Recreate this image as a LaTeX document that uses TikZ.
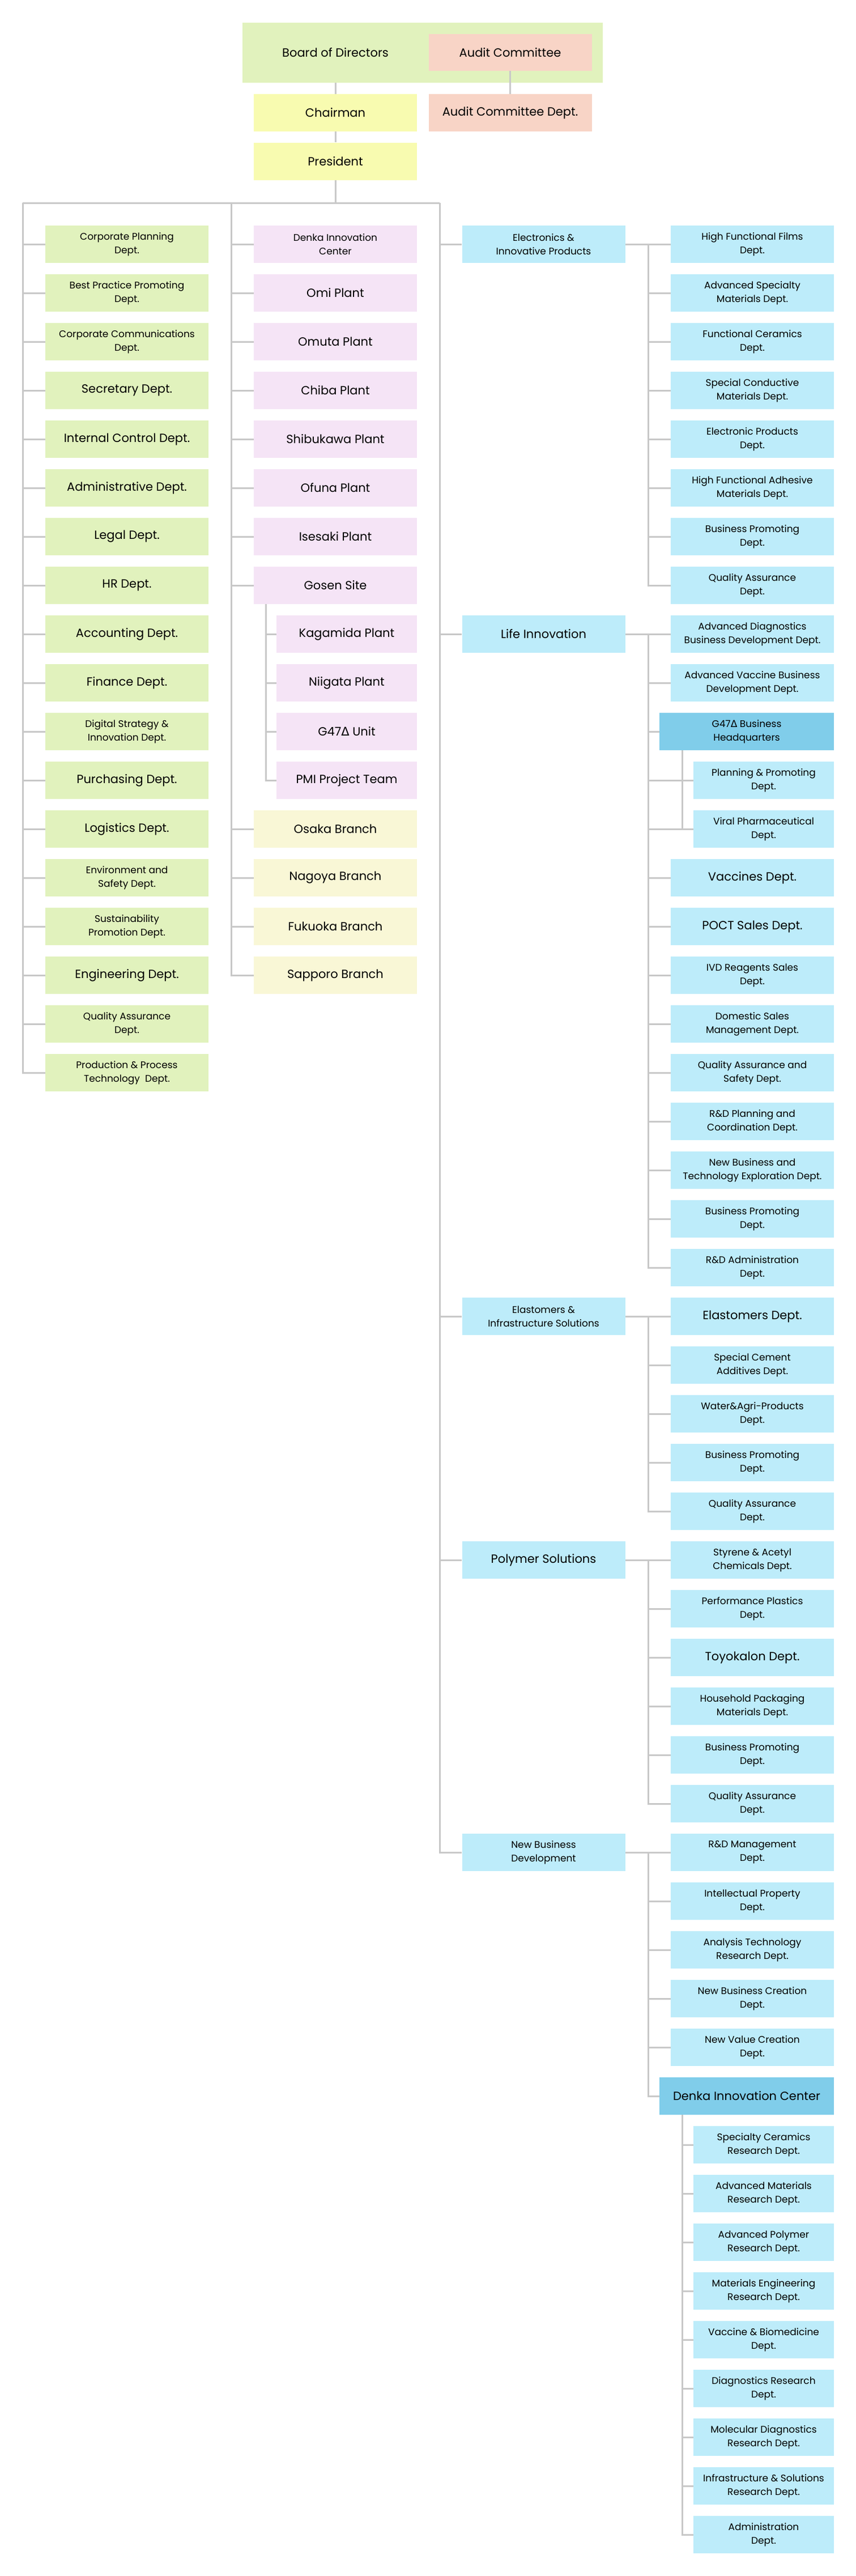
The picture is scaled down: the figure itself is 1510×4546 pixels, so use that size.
\documentclass[tikz,border=0pt]{standalone}
\usepackage{fontspec}
\setmainfont{Poppins}
\newfontfamily\dv{DejaVu Sans}
\definecolor{cgreen}{HTML}{E1F2BD}
\definecolor{csalmon}{HTML}{F8D4C6}
\definecolor{cyellow}{HTML}{F8FBB0}
\definecolor{cpink}{HTML}{F5E4F6}
\definecolor{ccream}{HTML}{F9F7D6}
\definecolor{cblue}{HTML}{BDECFA}
\definecolor{cdark}{HTML}{80CDEA}
\definecolor{cline}{HTML}{C8C8C8}
\newcommand\fs{\fontsize{8.5}{12}\selectfont}
\newcommand\fb{\fontsize{10.5}{13}\selectfont}
\newcommand\dlt{{\dv Δ}}
\tikzset{
 box/.style={inner sep=0,align=center,font=\fs,minimum height=33pt,minimum width=144pt},
 subw/.style={minimum width=124pt},
 darkw/.style={minimum width=154pt,fill=cdark},
 big/.style={font=\fb},
 gr/.style={box,fill=cgreen}, pk/.style={box,fill=cpink}, cr/.style={box,fill=ccream},
 bl/.style={box,fill=cblue},
 ln/.style={draw=cline,line width=1.5pt}
}
\newcommand\bx[5]{\node[#1] (#2) at (#3,{431+86*#4}) {#5};}
\begin{document}
\begin{tikzpicture}[x=0.5pt,y=-0.5pt]
\useasboundingbox (0,0) rectangle (1510,4546);
% top
\node[fill=cgreen,minimum width=318pt,minimum height=53pt,inner sep=0] (board) at (746,93) {};
\node[font=\fb] (bt) at (592,93) {Board of Directors};
\node[box,big,fill=csalmon,minimum height=32.5pt] (ac) at (900.5,92.5) {Audit Committee};
\node[box,big,fill=cyellow] (ch) at (592,199) {Chairman};
\node[box,big,fill=csalmon] (acd) at (900.5,199) {Audit Committee Dept.};
\node[box,big,fill=cyellow] (P) at (592,284.5) {President};
% left column
\bx{gr}{L0}{224}{0}{Corporate Planning\\Dept.}
\bx{gr}{L1}{224}{1}{Best Practice Promoting\\Dept.}
\bx{gr}{L2}{224}{2}{Corporate Communications\\Dept.}
\bx{gr,big}{L3}{224}{3}{Secretary Dept.}
\bx{gr,big}{L4}{224}{4}{Internal Control Dept.}
\bx{gr,big}{L5}{224}{5}{Administrative Dept.}
\bx{gr,big}{L6}{224}{6}{Legal Dept.}
\bx{gr,big}{L7}{224}{7}{HR Dept.}
\bx{gr,big}{L8}{224}{8}{Accounting Dept.}
\bx{gr,big}{L9}{224}{9}{Finance Dept.}
\bx{gr}{L10}{224}{10}{Digital Strategy \&\\Innovation Dept.}
\bx{gr,big}{L11}{224}{11}{Purchasing Dept.}
\bx{gr,big}{L12}{224}{12}{Logistics Dept.}
\bx{gr}{L13}{224}{13}{Environment and\\Safety Dept.}
\bx{gr}{L14}{224}{14}{Sustainability\\Promotion Dept.}
\bx{gr,big}{L15}{224}{15}{Engineering Dept.}
\bx{gr}{L16}{224}{16}{Quality Assurance\\Dept.}
\bx{gr}{L17}{224}{17}{Production \& Process\\Technology\ \ Dept.}
% second column
\bx{pk}{M0}{592}{0}{Denka Innovation\\Center}
\bx{pk,big}{M1}{592}{1}{Omi Plant}
\bx{pk,big}{M2}{592}{2}{Omuta Plant}
\bx{pk,big}{M3}{592}{3}{Chiba Plant}
\bx{pk,big}{M4}{592}{4}{Shibukawa Plant}
\bx{pk,big}{M5}{592}{5}{Ofuna Plant}
\bx{pk,big}{M6}{592}{6}{Isesaki Plant}
\bx{pk,big}{M7}{592}{7}{Gosen Site}
\bx{pk,big,subw}{M8}{612}{8}{Kagamida Plant}
\bx{pk,big,subw}{M9}{612}{9}{Niigata Plant}
\bx{pk,big,subw}{M10}{612}{10}{G47\dlt{} Unit}
\bx{pk,big,subw}{M11}{612}{11}{PMI Project Team}
\bx{cr,big}{M12}{592}{12}{Osaka Branch}
\bx{cr,big}{M13}{592}{13}{Nagoya Branch}
\bx{cr,big}{M14}{592}{14}{Fukuoka Branch}
\bx{cr,big}{M15}{592}{15}{Sapporo Branch}
% third column
\bx{bl}{G0}{959.5}{0}{Electronics \&\\Innovative Products}
\bx{bl,big}{G1}{959.5}{8}{Life Innovation}
\bx{bl}{G2}{959.5}{22}{Elastomers \&\\Infrastructure Solutions}
\bx{bl,big}{G3}{959.5}{27}{Polymer Solutions}
\bx{bl}{G4}{959.5}{33}{New Business\\Development}
% fourth column
\bx{bl}{R0}{1328}{0}{High Functional Films\\Dept.}
\bx{bl}{R1}{1328}{1}{Advanced Specialty\\Materials Dept.}
\bx{bl}{R2}{1328}{2}{Functional Ceramics\\Dept.}
\bx{bl}{R3}{1328}{3}{Special Conductive\\Materials Dept.}
\bx{bl}{R4}{1328}{4}{Electronic Products\\Dept.}
\bx{bl}{R5}{1328}{5}{High Functional Adhesive\\Materials Dept.}
\bx{bl}{R6}{1328}{6}{Business Promoting\\Dept.}
\bx{bl}{R7}{1328}{7}{Quality Assurance\\Dept.}
\bx{bl}{R8}{1328}{8}{Advanced Diagnostics\\Business Development Dept.}
\bx{bl}{R9}{1328}{9}{Advanced Vaccine Business\\Development Dept.}
\bx{box,darkw}{R10}{1318}{10}{G47\dlt{} Business\\Headquarters}
\bx{bl,subw}{R11}{1348}{11}{Planning \& Promoting\\Dept.}
\bx{bl,subw}{R12}{1348}{12}{Viral Pharmaceutical\\Dept.}
\bx{bl,big}{R13}{1328}{13}{Vaccines Dept.}
\bx{bl,big}{R14}{1328}{14}{POCT Sales Dept.}
\bx{bl}{R15}{1328}{15}{IVD Reagents Sales\\Dept.}
\bx{bl}{R16}{1328}{16}{Domestic Sales\\Management Dept.}
\bx{bl}{R17}{1328}{17}{Quality Assurance and\\Safety Dept.}
\bx{bl}{R18}{1328}{18}{R\&D Planning and\\Coordination Dept.}
\bx{bl}{R19}{1328}{19}{New Business and\\Technology Exploration Dept.}
\bx{bl}{R20}{1328}{20}{Business Promoting\\Dept.}
\bx{bl}{R21}{1328}{21}{R\&D Administration\\Dept.}
\bx{bl,big}{R22}{1328}{22}{Elastomers Dept.}
\bx{bl}{R23}{1328}{23}{Special Cement\\Additives Dept.}
\bx{bl}{R24}{1328}{24}{Water\&Agri-Products\\Dept.}
\bx{bl}{R25}{1328}{25}{Business Promoting\\Dept.}
\bx{bl}{R26}{1328}{26}{Quality Assurance\\Dept.}
\bx{bl}{R27}{1328}{27}{Styrene \& Acetyl\\Chemicals Dept.}
\bx{bl}{R28}{1328}{28}{Performance Plastics\\Dept.}
\bx{bl,big}{R29}{1328}{29}{Toyokalon Dept.}
\bx{bl}{R30}{1328}{30}{Household Packaging\\Materials Dept.}
\bx{bl}{R31}{1328}{31}{Business Promoting\\Dept.}
\bx{bl}{R32}{1328}{32}{Quality Assurance\\Dept.}
\bx{bl}{R33}{1328}{33}{R\&D Management\\Dept.}
\bx{bl}{R34}{1328}{34}{Intellectual Property\\Dept.}
\bx{bl}{R35}{1328}{35}{Analysis Technology\\Research Dept.}
\bx{bl}{R36}{1328}{36}{New Business Creation\\Dept.}
\bx{bl}{R37}{1328}{37}{New Value Creation\\Dept.}
\bx{box,darkw,big}{R38}{1318}{38}{Denka Innovation Center}
\bx{bl,subw}{R39}{1348}{39}{Specialty Ceramics\\Research Dept.}
\bx{bl,subw}{R40}{1348}{40}{Advanced Materials\\Research Dept.}
\bx{bl,subw}{R41}{1348}{41}{Advanced Polymer\\Research Dept.}
\bx{bl,subw}{R42}{1348}{42}{Materials Engineering\\Research Dept.}
\bx{bl,subw}{R43}{1348}{43}{Vaccine \& Biomedicine\\Dept.}
\bx{bl,subw}{R44}{1348}{44}{Diagnostics Research\\Dept.}
\bx{bl,subw}{R45}{1348}{45}{Molecular Diagnostics\\Research Dept.}
\bx{bl,subw}{R46}{1348}{46}{Infrastructure \& Solutions\\Research Dept.}
\bx{bl,subw}{R47}{1348}{47}{Administration\\Dept.}
% connectors
\coordinate (b1) at (40,358); \coordinate (b2) at (408,358);
\coordinate (b3) at (776,358); \coordinate (pb) at (592,358);
\coordinate (s1) at (469,0); \coordinate (s2) at (1204,0); \coordinate (c4) at (1144,0);
\draw[ln] (board.south -| bt) -- (ch.north);
\draw[ln] (ac.south) -- (acd.north);
\draw[ln] (ch.south) -- (P.north);
\draw[ln] (P.south) -- (pb);
\draw[ln] (b1) -- (b3);
\foreach \i in {0,...,17} {\draw[ln] (b1) |- (L\i.west);}
\foreach \i in {0,...,7,12,13,14,15} {\draw[ln] (b2) |- (M\i.west);}
\foreach \i in {8,...,11} {\draw[ln] (M7.south -| s1) |- (M\i.west);}
\foreach \i in {0,...,4} {\draw[ln] (b3) |- (G\i.west);}
\foreach \g/\a/\b in {0/0/7,1/8/21,2/22/26,3/27/32,4/33/38} {
  \draw[ln] (G\g.east) -- (R\a.west);
  \foreach \i in {\a,...,\b} {\draw[ln] (G\g.east -| c4) |- (R\i.west);}
}
\foreach \i in {11,12} {\draw[ln] (R10.south -| s2) |- (R\i.west);}
\foreach \i in {39,...,47} {\draw[ln] (R38.south -| s2) |- (R\i.west);}
\end{tikzpicture}
\end{document}
